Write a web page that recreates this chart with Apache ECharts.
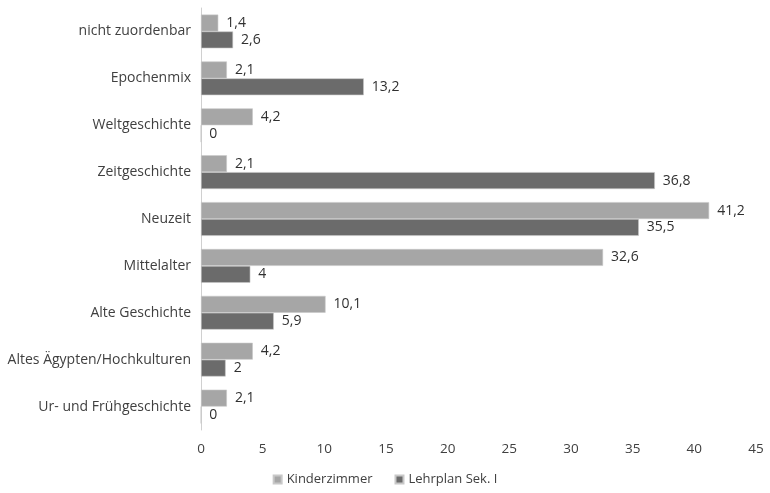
<!DOCTYPE html>
<html><head><meta charset="utf-8">
<script src="https://cdn.jsdelivr.net/npm/echarts@6/dist/echarts.min.js"></script>
<style>html,body{margin:0;padding:0;background:#fff}#c{width:770px;height:493px}</style>
</head><body><div id="c"></div>
<script>
const categories = ["nicht zuordenbar","Epochenmix","Weltgeschichte","Zeitgeschichte","Neuzeit","Mittelalter","Alte Geschichte","Altes Ägypten/Hochkulturen","Ur- und Frühgeschichte"];
const kinderzimmer = [1.4,2.1,4.2,2.1,41.2,32.6,10.1,4.2,2.1];
const lehrplan = [2.6,13.2,0,36.8,35.5,4,5.9,2,0];
const seriesNames = ["Kinderzimmer","Lehrplan Sek. I"];
const xTicks = {min:0,max:45,interval:5};
const fontFam = "'Open Sans', 'Liberation Sans', sans-serif";
const fmt = p => String(p.value).replace('.', ',');
const chart = echarts.init(document.getElementById('c'));
chart.setOption({
  animation:false,
  grid:{left:201,right:14,top:8,bottom:63,containLabel:false},
  legend:{bottom:2,left:'center',itemWidth:8,itemHeight:8,itemGap:22,icon:'rect',
    textStyle:{color:'#404040',fontSize:13,fontFamily:fontFam},data:seriesNames},
  xAxis:{type:'value',min:xTicks.min,max:xTicks.max,interval:xTicks.interval,
    splitLine:{show:false},axisLine:{show:false},axisTick:{show:false},
    axisLabel:{color:'#404040',fontSize:13.5,fontFamily:fontFam,margin:12}},
  yAxis:{type:'category',data:categories,inverse:true,
    axisLine:{show:true,lineStyle:{color:'#d0d0d0',width:1}},axisTick:{show:false},
    axisLabel:{color:'#404040',fontSize:14,fontFamily:fontFam,margin:10}},
  series:[
    {name:seriesNames[0],type:'bar',data:kinderzimmer,barGap:'0%',barCategoryGap:'28%',
     itemStyle:{color:'#a6a6a6',borderColor:'#c8c8c8',borderWidth:0.6},
     label:{show:true,position:'right',distance:8,formatter:fmt,color:'#303030',fontSize:14,fontFamily:fontFam}},
    {name:seriesNames[1],type:'bar',data:lehrplan,
     itemStyle:{color:'#6b6b6b',borderColor:'#c8c8c8',borderWidth:0.6},
     label:{show:true,position:'right',distance:8,formatter:fmt,color:'#303030',fontSize:14,fontFamily:fontFam}}
  ]
});
</script></body></html>
